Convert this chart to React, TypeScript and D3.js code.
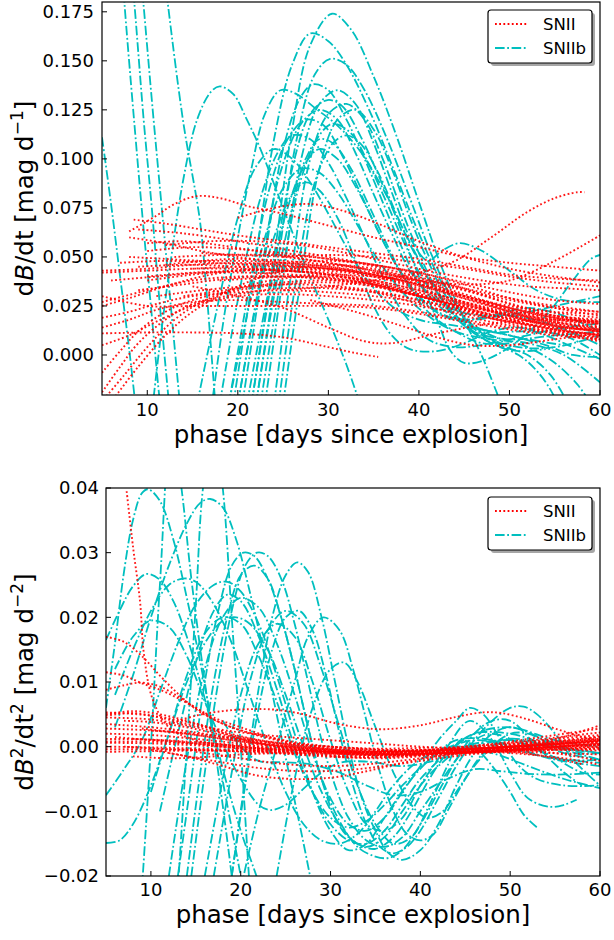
import React from 'react';
import * as d3 from 'd3';

type Pt = [number, number];

const PHASE_DOMAIN: [number, number] = [5, 60];
const phaseTicks = [10, 20, 30, 40, 50, 60];
const topTicks = [0, 0.025, 0.05, 0.075, 0.1, 0.125, 0.15, 0.175];
const topTickLabels = ['0.000', '0.025', '0.050', '0.075', '0.100', '0.125', '0.150', '0.175'];
const bottomTicks = [-0.02, -0.01, 0, 0.01, 0.02, 0.03, 0.04];
const bottomTickLabels = ['\u22120.02', '\u22120.01', '0.00', '0.01', '0.02', '0.03', '0.04'];
const legendLabels = ['SNII', 'SNIIb'];

// ---- top panel: dB/dt, SNII (red dotted) ----
const topSNII: Pt[][] = [
  [[5,.043],[10,.044],[15,.046],[20,.047],[25,.046],[30,.044],[35,.040],[40,.034],[45,.027],[50,.021],[55,.017],[60,.014]],
  [[5,.042],[10,.043],[15,.044],[20,.044],[25,.043],[30,.041],[35,.037],[40,.032],[45,.026],[50,.020],[55,.015],[60,.012]],
  [[8,.050],[12,.049],[16,.048],[20,.048],[25,.047],[30,.045],[35,.042],[40,.038],[45,.031],[50,.024],[55,.019],[60,.016]],
  [[9,.045],[14,.046],[20,.045],[25,.043],[30,.042],[35,.038],[40,.033],[45,.027],[50,.022],[55,.018],[60,.015]],
  [[10,.040],[15,.042],[20,.043],[25,.044],[30,.043],[35,.040],[40,.035],[45,.029],[50,.023],[55,.019],[60,.016]],
  [[12,.046],[16,.048],[20,.049],[25,.048],[30,.046],[35,.043],[40,.037],[45,.030],[50,.023],[55,.019],[60,.017]],
  [[8,.060],[12,.057],[16,.053],[20,.050],[25,.047],[30,.045],[35,.041],[40,.036],[45,.030],[50,.024],[55,.020],[60,.017]],
  [[9,.064],[14,.062],[20,.058],[25,.054],[30,.050],[35,.046],[40,.042],[45,.036],[50,.029],[55,.024],[60,.020]],
  [[8.5,.069],[12,.067],[16,.064],[20,.061],[25,.058],[30,.055],[35,.052],[40,.049],[45,.045],[50,.041],[55,.039],[60,.038]],
  [[8,.063],[11,.071],[13,.077],[15.5,.081],[18,.080],[21,.076],[25,.072],[30,.066],[35,.060],[40,.055],[45,.050],[50,.047],[55,.045],[60,.043]],
  [[20,.070],[24,.075],[28,.077],[32,.073],[36,.066],[40,.058],[45,.050],[50,.044],[55,.040],[60,.037]],
  [[5,.019],[8,.022],[11,.026],[15,.030],[20,.032],[25,.033],[30,.032],[35,.030],[40,.027],[45,.022],[50,.017],[55,.013],[60,.010]],
  [[5,.014],[8,.018],[11,.023],[15,.027],[20,.028],[25,.027],[30,.026],[35,.025],[40,.022],[45,.018],[50,.014],[55,.011],[60,.009]],
  [[5,-.009],[7,.002],[9,.012],[12,.022],[15,.028],[20,.033],[25,.036],[30,.037],[35,.035],[40,.030],[45,.024],[50,.018],[55,.013],[60,.010]],
  [[5,-.019],[7,-.006],[9,.006],[12,.018],[15,.026],[20,.031],[25,.034],[30,.034],[35,.032],[40,.028],[45,.023],[50,.017],[55,.012],[60,.008]],
  [[5.5,-.021],[7.5,-.010],[10,.004],[13,.018],[16,.027],[20,.034],[25,.039],[30,.040],[35,.038],[40,.033],[45,.027],[50,.020],[55,.014],[60,.010]],
  [[6.5,-.021],[9,-.006],[12,.010],[15,.022],[20,.035],[25,.043],[30,.046],[35,.044],[40,.038],[45,.030],[50,.022],[55,.016],[60,.012]],
  [[5,.030],[10,.025],[15,.025],[20,.025],[25,.025],[30,.025],[35,.024],[40,.021],[45,.017],[50,.013],[55,.010],[60,.008]],
  [[5,.011],[10,.0115],[15,.0115],[20,.011],[25,.009],[30,.004],[33,.001],[35.5,-.001]],
  [[15,.035],[20,.030],[25,.024],[30,.014],[34,.007],[37,.006],[42,.011],[48,.016],[54,.018],[60,.017]],
  [[5,.027],[10,.033],[15,.038],[20,.040],[25,.040],[30,.039],[35,.036],[40,.031],[45,.026],[50,.020],[55,.015],[60,.012]],
  [[10,.053],[15,.055],[20,.054],[25,.052],[30,.049],[35,.046],[40,.042],[45,.037],[50,.032],[55,.028],[60,.026]],
  [[12,.056],[17,.058],[22,.058],[27,.056],[32,.052],[37,.047],[42,.042],[47,.038],[52,.035],[56,.034],[60,.033]],
  [[18,.038],[25,.040],[30,.041],[35,.040],[40,.038],[45,.036],[50,.038],[55,.048],[60,.061]],
  [[25,.033],[30,.035],[35,.038],[40,.042],[44,.048],[48,.060],[52,.073],[55,.080],[57.5,.083],[58.3,.083]],
  [[14,.030],[20,.034],[25,.037],[30,.038],[35,.036],[40,.030],[45,.023],[50,.016],[55,.011],[60,.007]],
  [[10,.038],[15,.041],[20,.043],[25,.043],[30,.041],[35,.037],[40,.031],[45,.024],[50,.018],[55,.013],[60,.009]],
  [[20,.046],[25,.047],[30,.048],[35,.046],[40,.041],[45,.034],[50,.026],[55,.020],[60,.017]],
  [[5,.005],[8,.010],[11,.017],[15,.025],[20,.030],[25,.031],[30,.030],[35,.028],[40,.025],[45,.021],[50,.017],[55,.014],[60,.013]],
  [[16,.052],[20,.051],[25,.050],[30,.047],[35,.043],[40,.039],[45,.034],[50,.029],[55,.025],[60,.022]],
  [[22,.041],[26,.043],[30,.044],[35,.041],[40,.036],[45,.030],[50,.025],[55,.022],[60,.021]],
  [[10,.057],[14,.058],[18,.056],[22,.053],[26,.050],[30,.047],[34,.044]],
  [[25,.050],[30,.051],[35,.050],[40,.047],[45,.044],[50,.040],[55,.037],[60,.035]],
  [[5,.025],[8,.029],[12,.035],[16,.040],[20,.043],[25,.043],[30,.041],[35,.036],[40,.030],[45,.025],[50,.021],[55,.018],[60,.016]],
  [[30,.035],[35,.032],[40,.026],[45,.020],[50,.015],[55,.012],[60,.011]],
  [[35,.042],[40,.038],[45,.033],[50,.028],[55,.024],[60,.022]],
  [[28,.028],[33,.022],[38,.015],[42,.009],[46,.005],[50,.005],[55,.008],[60,.011]],
  [[7,.047],[12,.048],[17,.047],[22,.046],[27,.045],[32,.043],[37,.039],[42,.033],[47,.026],[52,.020],[56,.016],[60,.013]],
  [[6,.038],[11,.040],[16,.042],[21,.042],[26,.041],[31,.039],[36,.035],[41,.029],[46,.023],[51,.018],[56,.014],[60,.012]],
  [[9,.033],[14,.036],[19,.039],[24,.040],[29,.039],[34,.036],[39,.031],[44,.026],[49,.021],[54,.017],[60,.014]],
  [[13,.050],[18,.051],[23,.051],[28,.050],[33,.047],[38,.042],[43,.036],[48,.029],[53,.023],[60,.019]],
  [[11,.030],[16,.033],[21,.035],[26,.036],[31,.035],[36,.032],[41,.027],[46,.022],[51,.018],[56,.015],[60,.013]],
  [[15,.044],[20,.045],[25,.045],[30,.044],[35,.041],[40,.036],[45,.030],[50,.024],[55,.020],[60,.018]],
];

// ---- top panel: dB/dt, SNIIb (cyan dash-dot) ----
const topSNIIb: Pt[][] = [
  [[5,.111],[6,.077],[7,.040],[8,.003],[8.8,-.03]],
  [[7,.21],[7.5,.178],[8.5,.122],[9.5,.069],[10.4,.025],[11.3,-.02],[11.8,-.04]],
  [[8,.21],[8.6,.178],[9.6,.12],[10.5,.075],[11.3,.03],[12.1,-.01],[12.6,-.035]],
  [[9,.21],[9.6,.178],[10.6,.125],[11.5,.08],[12.4,.035],[13.2,-.005],[13.8,-.035]],
  [[11.5,.21],[12.3,.178],[14,.118],[15.8,.069],[16.5,.035],[17.1,0],[17.6,-.03]],
  [[10.5,-.03],[11.5,.01],[12.5,.045],[14,.09],[15.5,.12],[17,.134],[18,.137],[19.5,.133],[21,.12],[22.5,.105],[25,.075],[27.5,.045],[30,.018],[32,-.005],[33.5,-.025]],
  [[17,-.03],[18.5,.02],[20,.06],[21.5,.095],[23,.123],[24.7,.135],[26.5,.133],[28.5,.126],[31,.117],[33.5,.104],[36,.085],[38.5,.062],[41,.04],[43.5,.022],[46,.012],[50,.008],[55,.01],[60,.012]],
  [[21.5,-.025],[24,.05],[26,.115],[28,.158],[30.4,.174],[32.5,.166],[35,.142],[37.5,.112],[40,.078],[42.5,.045],[45,.018],[47,-.001],[48.5,-.018],[49.5,-.03]],
  [[19.5,-.025],[22,.05],[24,.11],[26,.148],[28,.164],[30,.16],[32,.148],[34.5,.125],[37,.097],[40,.062],[43,.033],[46,.015],[49,.005],[52,0],[54.5,-.01],[56.5,-.025]],
  [[22,-.025],[24.5,.05],[26.5,.11],[28.5,.143],[30.2,.151],[32,.148],[34,.135],[36.5,.11],[39,.08],[41.5,.05],[44,.026],[47,.01],[51,.004],[55,.004],[60,.01]],
  [[20.5,-.025],[23,.05],[25,.105],[27,.132],[28.3,.138],[30,.135],[32,.12],[34,.1],[36,.078],[38,.056],[40,.037],[42,.028],[44.5,.022],[48,.02],[52,.022],[56,.026],[60,.03]],
  [[21.5,-.025],[24,.045],[26,.095],[28,.123],[29.9,.13],[31.5,.127],[33.5,.112],[35.5,.092],[37.5,.07],[40,.04],[42,.018],[43.5,.002],[45,-.004],[47,-.003],[50,.004],[54,.02],[57,.038],[59,.049],[60,.051]],
  [[23,-.025],[25,.04],[27,.1],[29,.128],[31,.135],[33,.128],[35,.108],[37,.083],[39,.06],[41,.048],[42.5,.053],[44.5,.057],[47,.053],[50,.043],[53,.033],[56,.028],[60,.027]],
  [[20,-.025],[22.5,.04],[24.5,.09],[27,.118],[29,.125],[31,.12],[33,.103],[35,.082],[37,.062],[39,.043],[42,.026],[45,.016],[48,.012],[52,.012],[56,.01],[60,0]],
  [[24,-.025],[26,.045],[28,.1],[30,.123],[32,.128],[34,.12],[36,.1],[38,.075],[40,.052],[42,.033],[45,.015],[48,.006],[51,0],[53,-.008],[54.8,-.02],[55.5,-.03]],
  [[19,-.025],[21.5,.04],[23.5,.085],[25.5,.11],[27.5,.12],[29.5,.117],[31.5,.102],[33.5,.083],[35.5,.063],[38,.042],[41,.025],[44,.018],[48,.02],[52,.024],[56,.02],[60,.012]],
  [[22.5,-.025],[25,.045],[27,.09],[29,.112],[30.5,.118],[32.5,.113],[34.5,.097],[36.5,.077],[38.5,.056],[41,.035],[44,.02],[48,.01],[52,.004],[55,-.004],[57.5,-.015],[59,-.025]],
  [[18,-.025],[20.5,.04],[22.5,.08],[24.5,.104],[26,.112],[28,.11],[30,.098],[32,.08],[34,.06],[36,.04],[38.5,.02],[41,.008],[44,.004],[48,.006],[52,.01],[56,.014],[60,.016]],
  [[25,-.025],[27,.04],[29,.095],[31,.12],[33,.125],[35,.115],[37,.095],[39,.07],[41,.048],[43,.03],[46,.015],[50,.01],[54,.005],[57,0],[60,-.001]],
  [[21,-.025],[23.5,.035],[25.5,.075],[27.5,.098],[29,.105],[31,.1],[33,.086],[35,.068],[37,.05],[40,.03],[43,.02],[46,.018],[50,.02],[55,.015],[60,.005]],
  [[19,-.025],[21,.02],[23,.06],[25,.085],[27,.095],[29,.093],[31,.083],[33,.068],[35,.052],[38,.033],[41,.02],[44,.012],[48,.008],[52,.006],[56,0],[60,-.014]],
  [[15.5,-.025],[18,.03],[20,.07],[22,.096],[24,.105],[26,.1],[28,.088],[30,.072],[32,.055],[34,.04],[37,.025],[40,.018],[44,.015],[48,.012],[52,.008],[56,.005]],
  [[24.5,-.025],[26.5,.04],[28.5,.088],[30.5,.108],[32,.112],[33.5,.108],[35.5,.093],[37.5,.072],[39.5,.052],[42,.032],[45,.016],[48,.006],[51,.002],[54,.003]],
  [[22,-.025],[24,.03],[26,.075],[27.5,.1],[29,.11],[30.5,.108],[32.5,.095],[34.5,.076],[36.5,.056],[38.5,.038],[41,.022],[44,.012],[47,.006],[50,.006]],
  [[20,-.025],[22,.025],[24,.06],[26,.082],[27.5,.088],[29,.084],[31,.07],[33,.048],[35,.025],[37,.01],[39,.003],[42,.002],[45,.006],[48,.012],[51,.014],[54,.01],[57,.004],[60,-.002]],
];

// ---- bottom panel: dB2/dt2, SNII (red dotted) ----
const bottomSNII: Pt[][] = [
  [[5,.0053],[10,.0048],[15,.0035],[20,.0012],[25,-.0002],[30,-.0008],[35,-.001],[40,-.0008],[45,-.0005],[50,-.0003],[55,0],[60,.0002]],
  [[5,.0045],[10,.0042],[15,.003],[20,.0015],[25,.0003],[30,-.0005],[35,-.001],[40,-.001],[45,-.0008],[50,-.0004],[55,0],[60,.0005]],
  [[5,.0035],[10,.003],[15,.0022],[20,.001],[25,0],[30,-.0008],[35,-.0012],[40,-.0012],[45,-.001],[50,-.0006],[55,-.0002],[60,0]],
  [[5,.0028],[10,.0025],[15,.0018],[20,.0008],[25,-.0002],[30,-.001],[35,-.0013],[40,-.0012],[45,-.0009],[50,-.0005],[55,0],[60,.0006]],
  [[5,0],[10,-.0001],[15,-.0003],[20,-.0005],[25,-.0007],[30,-.0009],[35,-.001],[40,-.001],[45,-.0009],[50,-.0007],[55,-.0005],[60,-.0003]],
  [[5,.0006],[10,.0005],[15,.0002],[20,-.0002],[25,-.0006],[30,-.0009],[35,-.0011],[40,-.001],[45,-.0006],[50,-.0002],[55,.0003],[60,.0009]],
  [[5,-.0008],[10,-.0007],[15,-.0006],[20,-.0006],[25,-.0007],[30,-.0008],[35,-.0009],[40,-.0009],[45,-.0008],[50,-.0006],[55,-.0004],[60,-.0002]],
  [[7,0],[12,-.0004],[17,-.0006],[22,-.0009],[27,-.0012],[32,-.0014],[37,-.0013],[42,-.001],[47,-.0005],[52,0],[57,.0006],[60,.001]],
  [[8,.0012],[13,.0008],[18,0],[23,-.0008],[28,-.0014],[33,-.0017],[38,-.0015],[43,-.0009],[48,-.0002],[53,.0006],[58,.0013],[60,.0016]],
  [[10,-.0005],[14,-.0015],[18,-.003],[22,-.0045],[26,-.005],[30,-.0048],[34,-.0038],[38,-.0025],[42,-.0015],[46,-.0008],[50,-.0005],[55,-.0005],[60,-.0006]],
  [[12,-.001],[17,-.0022],[22,-.0033],[27,-.0038],[32,-.0036],[37,-.0028],[42,-.0018],[47,-.001],[52,-.0006],[56,-.0012],[60,-.0022]],
  [[15,-.0008],[20,-.0018],[25,-.0027],[30,-.003],[35,-.0026],[40,-.0018],[45,-.001],[50,-.0008],[55,-.0018],[58,-.0027]],
  [[7.3,.0395],[8,.031],[8.8,.0223],[9.2,.0146],[10.2,.0073],[12,.003],[15,.001],[20,0],[25,-.0005],[30,-.0008],[40,-.0008],[50,-.0003],[60,.0003]],
  [[5,.017],[7,.0162],[9,.014],[11,.011],[13,.0082],[15,.0058],[17,.0042],[19,.003],[22,.0018],[26,.0007],[30,0],[35,-.0005],[40,-.0005],[45,-.0002],[50,.0003],[55,.0008],[60,.0012]],
  [[5,.0115],[7,.011],[9,.0098],[11,.0088],[13,.0075],[15,.006],[17,.0045],[20,.003],[24,.0012],[28,0],[33,-.0006],[40,-.0006],[50,0],[60,.0008]],
  [[5,.0088],[7,.0095],[9,.0099],[11,.0093],[13,.0078],[15,.006],[17,.0042],[20,.0025],[24,.001],[28,0],[35,-.0006],[45,-.0004],[55,.0004],[60,.0008]],
  [[12,.0035],[15,.0048],[18,.0055],[21,.0058],[24,.0057],[27,.005],[30,.0038],[33,.003],[36,.0027],[40,.0033],[44,.0046],[47,.0053],[49,.0052],[52,.0042],[55,.0028],[58,.0015],[60,.0008]],
  [[5,.0048],[8,.0052],[11,.0045],[14,.0035],[17,.0028],[20,.0022],[25,.0015],[30,.001],[35,.0005],[40,0],[45,-.0003],[50,0],[55,.0005],[60,.0012]],
  [[10,.0025],[15,.002],[20,.0012],[25,.0005],[30,0],[35,-.0003],[40,-.0002],[45,0],[50,.0006],[55,.0014],[60,.0022]],
  [[5,.002],[10,.0018],[15,.0012],[20,.0005],[25,0],[30,-.0006],[35,-.0008],[40,-.0006],[45,0],[50,.0008],[55,.0018],[60,.0028]],
  [[15,.0008],[20,0],[25,-.0008],[30,-.0014],[35,-.0016],[40,-.0012],[45,-.0005],[50,.0003],[55,.0012],[60,.0033]],
  [[18,.0015],[22,.0006],[27,-.0004],[32,-.0011],[37,-.0014],[42,-.0012],[47,-.0008],[52,-.0012],[56,-.0018],[60,-.0028]],
  [[6,.0015],[10,.001],[15,.0004],[20,-.0002],[25,-.0006],[30,-.0009],[35,-.001],[40,-.0009],[45,-.0007],[50,-.0004],[55,-.0001],[60,.0002]],
  [[20,.0003],[25,-.0003],[30,-.0007],[35,-.0009],[40,-.0008],[45,-.0006],[50,-.0005],[55,-.0004],[60,-.0004]],
  [[25,.0005],[30,0],[35,-.0004],[40,-.0006],[45,-.0004],[50,0],[55,.0004],[60,.0008]],
  [[7,.004],[10,.0038],[14,.003],[18,.0018],[22,.0008],[26,0],[30,-.0006],[35,-.0011],[40,-.0011],[45,-.0008],[50,-.0005],[55,-.0003],[60,-.0001]],
  [[8,-.0015],[12,-.0018],[16,-.0016],[20,-.0012],[25,-.001],[30,-.0011],[35,-.0013],[40,-.0012],[45,-.001],[50,-.0008],[55,-.001],[60,-.0012]],
  [[30,-.0015],[35,-.0018],[40,-.0015],[45,-.0008],[50,0],[55,.0007],[60,.0015]],
  [[5,.0008],[9,.0008],[13,.0006],[18,.0002],[23,-.0003],[28,-.0007],[33,-.0009],[38,-.0008],[43,-.0005],[48,-.0002],[53,.0001],[60,.0004]],
  [[5,.005],[8,.0055],[11,.005],[14,.004],[17,.0028],[20,.0016],[25,.0004],[30,-.0004],[35,-.0008],[40,-.0006],[45,-.0002],[50,.0005],[55,.0012],[60,.0018]],
  [[5,.0012],[10,.0011],[15,.0007],[20,.0002],[25,-.0004],[30,-.0008],[35,-.001],[40,-.0009],[45,-.0005],[50,0],[55,.0006],[60,.0012]],
  [[5,-.0004],[10,-.0004],[15,-.0005],[20,-.0007],[25,-.0009],[30,-.0011],[35,-.0012],[40,-.0011],[45,-.0008],[50,-.0004],[55,0],[60,.0004]],
  [[9,.0028],[14,.002],[19,.001],[24,.0002],[29,-.0004],[34,-.0008],[39,-.0008],[44,-.0005],[49,-.0001],[54,.0004],[60,.001]],
];

// ---- bottom panel: dB2/dt2, SNIIb (cyan dash-dot) ----
const bottomSNIIb: Pt[][] = [
  [[5,.006],[6,.016],[7,.027],[8,.035],[9,.0392],[9.7,.0398],[11,.038],[12.5,.032],[14,.023],[15.5,.013],[17,.002],[18.5,-.009],[20,-.02],[20.8,-.026]],
  [[6,.003],[8,.011],[10,.02],[12,.028],[14,.0345],[15.5,.0377],[16.6,.0383],[18,.037],[19.5,.032],[21,.024],[22.5,.015],[24,.005],[25.5,-.005],[27,-.015],[28,-.022]],
  [[5,.0165],[6.5,.021],[8,.0248],[9.5,.0267],[11,.0258],[12.5,.0225],[14,.017],[15.5,.01],[17,.002],[18.5,-.006],[20,-.013],[21.5,-.019],[22.5,-.023]],
  [[5,-.0075],[7,-.0035],[9,.001],[11,.0085],[13,.016],[15,.022],[17,.025],[18.5,.0255],[20,.024],[22,.019],[24,.011],[26,.002],[28,-.007],[30,-.013],[32,-.016],[34,-.015],[36,-.011],[39,-.005],[42,-.001],[46,.001],[50,0],[55,-.002],[60,-.003]],
  [[13,-.02],[14.5,-.005],[16,.01],[17.5,.021],[19,.028],[20.3,.03],[21.5,.0295],[23,.026],[24.5,.02],[26,.012],[27.5,.003],[29,-.005],[30.5,-.011],[32,-.014],[34,-.0155],[36,-.014],[38,-.01],[40,-.006],[42,-.003],[45,0],[50,.001],[55,0],[60,-.001]],
  [[14.5,-.02],[16,-.004],[17.5,.01],[19,.021],[20.5,.028],[21.8,.03],[23,.0295],[24.5,.026],[26,.019],[27.5,.01],[29,.001],[30.5,-.006],[32,-.011],[34,-.0145],[36,-.0155],[38,-.014],[40,-.01],[42,-.006],[44,-.002],[46,.001],[48,.002],[52,0],[56,-.002],[60,-.002]],
  [[19,-.02],[20.5,-.005],[22,.009],[23.5,.02],[25,.0265],[26.3,.0285],[27.5,.027],[29,.02],[30.5,.01],[32,0],[33.5,-.008],[35,-.013],[36.5,-.0165],[38,-.0175],[40,-.016],[42,-.012],[44,-.006],[46,-.001],[48,.002],[50,.003],[54,.001],[58,-.001],[60,-.001]],
  [[11,-.01],[13,.002],[15,.013],[17,.021],[18.5,.0235],[20,.0225],[22,.017],[24,.009],[26,0],[28,-.007],[30,-.012],[32,-.0145],[34,-.015],[36,-.013],[38,-.009],[40,-.005],[43,-.001],[46,.002],[50,.003],[55,.001],[60,0]],
  [[20,-.022],[22,-.01],[24,0],[26,.01],[27.5,.017],[29.2,.02],[31,.018],[32.5,.012],[34,.004],[35.5,-.004],[37,-.01],[38.5,-.0135],[40,-.0145],[41.5,-.0135],[43,-.01],[45,-.005],[47,-.001],[49,.001],[52,.001],[56,-.001],[60,-.002]],
  [[10,-.007],[12,.002],[14,.011],[16,.0175],[18,.02],[20,.019],[22,.014],[24,.007],[26,-.001],[28,-.007],[30,-.011],[32,-.0125],[34,-.0115],[36,-.009],[38,-.006],[41,-.002],[44,.001],[48,.001],[52,-.001],[56,-.002],[60,-.0025]],
  [[5,-.0149],[6.5,-.0145],[8,-.012],[10,-.006],[12,.002],[14,.01],[16,.016],[18,.0195],[19.5,.02],[21,.019],[23,.015],[25,.008],[27,0],[29,-.007],[31,-.012],[33,-.015],[35,-.0158],[37,-.014],[39,-.01],[41,-.005],[43,-.001],[46,.002],[50,.002],[55,0],[60,-.001]],
  [[6,.012],[8,.017],[10,.0195],[12,.0185],[14,.014],[16,.007],[18,.0005],[20,-.005],[22,-.009],[23.3,-.0098],[25,-.009],[27,-.0065],[29,-.004],[31,-.0025],[34,-.0023],[38,-.003],[42,-.002],[46,0],[50,.001],[54,-.001],[58,-.004],[60,-.0043]],
  [[9,-.022],[10,0],[11,.025],[12.3,.05],[13.4,.04],[14.5,.026],[16,.01],[17.5,-.004],[19,-.02],[19.5,-.026]],
  [[13,-.022],[14,0],[15,.022],[15.8,.04],[17,.05],[18,.04],[19,.02],[20,0],[21,-.022]],
  [[14,-.02],[15.5,-.004],[17,.01],[18.5,.02],[20,.0265],[21.5,.028],[23,.026],[24.5,.02],[26,.012],[27.5,.003],[29,-.005],[31,-.0115],[33,-.0155],[35,-.017],[36.5,-.0172],[38,-.016],[40,-.012],[42,-.007],[44,-.002],[46,.002],[48,.004],[50,.004],[53,0],[56,-.004],[58,-.006]],
  [[19,-.02],[20.5,-.006],[22,.006],[23.5,.015],[25,.02],[26.5,.021],[28,.018],[29.5,.011],[31,.002],[32.5,-.006],[34,-.012],[35.5,-.0155],[37,-.0165],[38.5,-.0155],[40,-.013],[42,-.008],[44,-.003],[46,.001],[48,.004],[50,.006],[51.5,.0062],[53,.005],[55,.002],[57,-.002],[60,-.006]],
  [[16,-.02],[18,-.005],[20,.008],[22,.016],[24,.019],[26,.017],[28,.01],[30,.001],[32,-.007],[34,-.012],[36,-.013],[38,-.011],[40,-.006],[43,0],[45.5,.004],[48,.001],[50,-.004],[52,-.008],[54.4,-.0093],[56,-.009],[57.4,-.0082]],
  [[17,-.02],[19,-.004],[21,.01],[23,.018],[25,.021],[27,.019],[29,.012],[31,.003],[33,-.006],[35,-.012],[37,-.015],[39,-.014],[41,-.009],[43,-.003],[44.5,.001],[46,0],[48,-.003],[50,-.007],[51.5,-.0105],[53,-.0125]],
  [[12,-.02],[14,-.002],[16,.012],[18,.02],[20,.023],[22,.0215],[24,.016],[26,.008],[28,-.001],[30,-.008],[32,-.012],[34,-.013],[36,-.011],[38,-.007],[40,-.003],[42,.001],[44,.004],[45.5,.006],[47,.005],[49,.001],[51,-.003],[53,-.005],[56,-.006],[60,-.006]],
  [[6,.008],[8,.015],[10,.021],[12,.025],[13.6,.026],[15,.0255],[17,.022],[19,.016],[21,.008],[23,0],[25,-.007],[27,-.012],[29,-.0145],[31,-.015],[33,-.0135],[35,-.01],[37,-.006],[40,-.002],[44,0],[48,-.001],[52,-.003],[56,-.005],[60,-.0064]],
  [[18,.004],[20,0],[22,-.0022],[25,-.0024],[28,-.0028],[31,-.004],[34,-.006],[37,-.0075],[40,-.007],[43,-.005],[46,-.0035],[49,-.0038],[52,-.0042],[56,-.0043],[60,-.004]],
  [[24,-.02],[26,-.005],[28,.006],[30,.012],[31.5,.013],[33,.01],[35,.003],[37,-.004],[39,-.009],[40.7,-.011],[42.5,-.01],[44,-.007],[46,-.003],[48,0],[50,.002],[52,.002],[55,0],[60,-.002]],
];

const RED = '#ff0000';
const CYAN = '#00bfbf';
const FONT = 'DejaVu Sans, Verdana, sans-serif';
const RED_DASH = '1.8 2.4';
const CYAN_DASH = '9.6 2.6 1.8 2.6';

type PanelProps = {
  id: string;
  left: number; right: number; top: number; bottom: number;
  yDomain: [number, number];
  ticks: number[]; tickLabels: string[];
  snII: Pt[][]; snIIb: Pt[][];
  tickGap: number; xTickBase: number; xLabelBase: number;
  yLabel: React.ReactNode;
  legendTop: number;
};

function Panel(p: PanelProps) {
  const x = d3.scaleLinear().domain(PHASE_DOMAIN).range([p.left, p.right]);
  const y = d3.scaleLinear().domain(p.yDomain).range([p.bottom, p.top]);
  const line = d3.line<Pt>().x(d => x(d[0])).y(d => y(d[1])).curve(d3.curveCatmullRom.alpha(0.5));
  const lx = 488, lw = 104, lh = 53, lt = p.legendTop;
  const cx = (p.left + p.right) / 2;
  return (
    <g>
      <defs>
        <clipPath id={p.id}>
          <rect x={p.left} y={p.top} width={p.right - p.left} height={p.bottom - p.top} />
        </clipPath>
      </defs>
      <g clipPath={`url(#${p.id})`}>
        {p.snIIb.map((c, i) => (
          <path key={'b' + i} d={line(c) || ''} fill="none" stroke={CYAN} strokeWidth={1.8} strokeDasharray={CYAN_DASH} />
        ))}
        {p.snII.map((c, i) => (
          <path key={'r' + i} d={line(c) || ''} fill="none" stroke={RED} strokeOpacity={0.9} strokeWidth={1.9} strokeDasharray={RED_DASH} />
        ))}
      </g>
      {p.ticks.map((t, i) => (
        <g key={'yt' + i}>
          <line x1={p.left} x2={p.left + 5} y1={y(t)} y2={y(t)} stroke="#000" strokeWidth={1} />
          <text x={p.left - p.tickGap} y={y(t)} dy="0.36em" textAnchor="end" fontSize={18} fontFamily={FONT}>{p.tickLabels[i]}</text>
        </g>
      ))}
      {phaseTicks.map((t, i) => (
        <g key={'xt' + i}>
          <line x1={x(t)} x2={x(t)} y1={p.bottom} y2={p.bottom - 5} stroke="#000" strokeWidth={1} />
          <text x={x(t)} y={p.xTickBase} textAnchor="middle" fontSize={18} fontFamily={FONT}>{t}</text>
        </g>
      ))}
      <rect x={p.left} y={p.top} width={p.right - p.left} height={p.bottom - p.top} fill="none" stroke="#000" strokeWidth={1.2} />
      <text x={cx} y={p.xLabelBase} textAnchor="middle" fontSize={24.5} fontFamily={FONT}>phase [days since explosion]</text>
      {p.yLabel}
      <rect x={lx + 3} y={lt + 3} width={lw} height={lh} rx={3} fill="#000" opacity={0.35} />
      <rect x={lx} y={lt} width={lw} height={lh} rx={3} fill="#fff" stroke="#000" strokeWidth={1.2} />
      <line x1={495} x2={528} y1={lt + 14} y2={lt + 14} stroke={RED} strokeWidth={1.9} strokeDasharray={RED_DASH} />
      <text x={543} y={lt + 14} dy="0.36em" fontSize={16.5} fontFamily={FONT}>{legendLabels[0]}</text>
      <line x1={495} x2={528} y1={lt + 38} y2={lt + 38} stroke={CYAN} strokeWidth={1.8} strokeDasharray={CYAN_DASH} />
      <text x={543} y={lt + 38} dy="0.36em" fontSize={16.5} fontFamily={FONT}>{legendLabels[1]}</text>
    </g>
  );
}

export default function App() {
  const topTop = 2, topBottom = 395;
  const botTop = 488, botBottom = 876;
  return (
    <svg width={614} height={940} style={{ position: 'absolute', left: 0, top: 0, background: '#fff' }}>
      <rect x={0} y={0} width={614} height={940} fill="#fff" />
      <Panel
        id="clipTop" left={102} right={600} top={topTop} bottom={topBottom}
        yDomain={[-0.0204, 0.18]} ticks={topTicks} tickLabels={topTickLabels}
        snII={topSNII} snIIb={topSNIIb}
        tickGap={8} xTickBase={416} xLabelBase={443} legendTop={10}
        yLabel={
          <text transform={`translate(33,${(topTop + topBottom) / 2}) rotate(-90)`} textAnchor="middle" fontSize={24.5} fontFamily={FONT}>
            d<tspan fontStyle="italic">B</tspan>/dt [mag d<tspan dy={-10} fontSize={17}>{'\u22121'}</tspan><tspan dy={10}>]</tspan>
          </text>
        }
      />
      <Panel
        id="clipBot" left={106} right={600} top={botTop} bottom={botBottom}
        yDomain={[-0.02, 0.04]} ticks={bottomTicks} tickLabels={bottomTickLabels}
        snII={bottomSNII} snIIb={bottomSNIIb}
        tickGap={7} xTickBase={896} xLabelBase={923} legendTop={497}
        yLabel={
          <text transform={`translate(33,${(botTop + botBottom) / 2}) rotate(-90)`} textAnchor="middle" fontSize={24.5} fontFamily={FONT}>
            d<tspan fontStyle="italic">B</tspan><tspan dy={-10} fontSize={17}>2</tspan><tspan dy={10}>/dt</tspan><tspan dy={-10} fontSize={17}>2</tspan><tspan dy={10}> [mag d</tspan><tspan dy={-10} fontSize={17}>{'\u22122'}</tspan><tspan dy={10}>]</tspan>
          </text>
        }
      />
    </svg>
  );
}
